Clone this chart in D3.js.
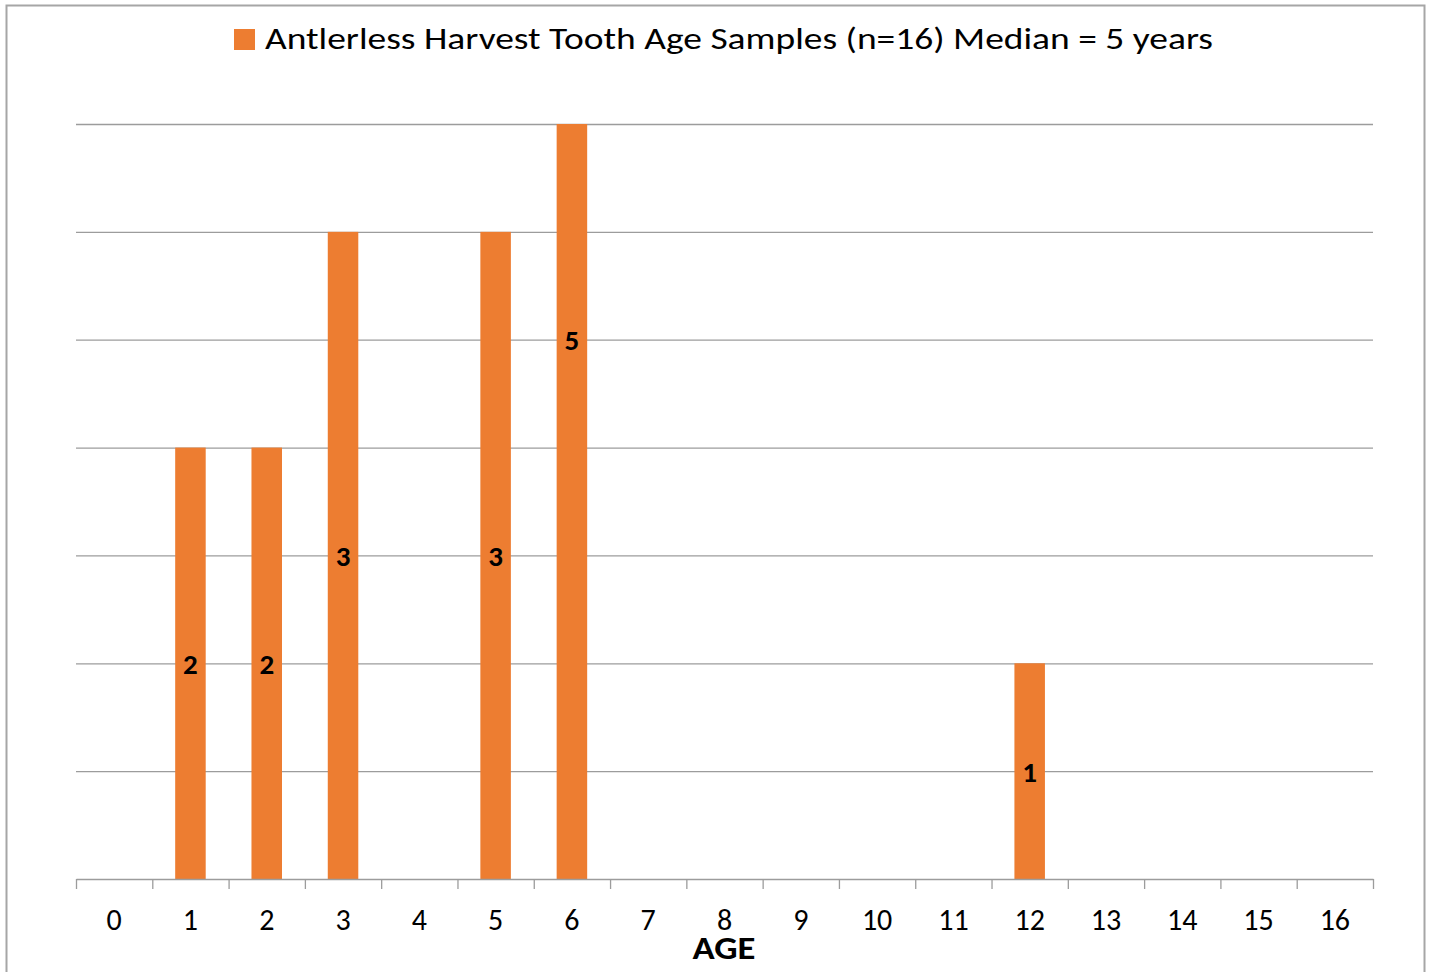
<!DOCTYPE html>
<html>
<head>
<meta charset="utf-8">
<script src="https://cdn.jsdelivr.net/npm/d3@7"></script>
<style>
  html, body { margin: 0; padding: 0; background: #fff; }
  svg { display: block; font-family: Carlito, Lato, sans-serif; }
</style>
</head>
<body>
<svg id="chart" width="1433" height="972"></svg>
<script>
// ---- data ----
const ages = ["0","1","2","3","4","5","6","7","8","9","10","11","12","13","14","15","16"];
// bar heights as drawn (in gridline units)
const barHeights = [0,4,4,6,0,6,7,0,0,0,0,0,2,0,0,0,0];
// data labels shown on the bars (sample counts)
const counts = [0,2,2,3,0,3,5,0,0,0,0,0,1,0,0,0,0];
const yTicks = [0,1,2,3,4,5,6,7];
const seriesName = "Antlerless Harvest Tooth Age Samples (n=16) Median = 5 years";
const axisTitle = "AGE";

const svg = d3.select("#chart");
const mLeft = 76, mRight = 1373, mTop = 124, mBottom = 879;
const barColor = "#ED7D31";
const gridColor = "#9c9c9c";

// outer border
svg.append("rect").attr("x", 6.5).attr("y", 5.5).attr("width", 1418).attr("height", 980)
  .attr("fill", "none").attr("stroke", "#a6a6a6").attr("stroke-width", 2);

const x = d3.scaleBand().domain(ages).range([mLeft, mRight]).paddingInner(0.6).paddingOuter(0.3);
const y = d3.scaleLinear().domain([0, 7]).range([mBottom, mTop]);

// gridlines
const grid = svg.append("g").attr("transform", `translate(${mLeft},0)`)
  .call(d3.axisLeft(y).tickValues(yTicks.slice(1)).tickSize(-(mRight - mLeft)).tickFormat(""));
grid.select(".domain").remove();
grid.selectAll("line").attr("stroke", gridColor).attr("stroke-width", 1.3);

// bars
svg.append("g").selectAll("rect").data(ages.map((a, i) => ({a, h: barHeights[i], c: counts[i]})).filter(d => d.h > 0))
  .join("rect")
  .attr("x", d => x(d.a)).attr("width", x.bandwidth())
  .attr("y", d => y(d.h)).attr("height", d => y(0) - y(d.h))
  .attr("fill", barColor);

// data labels
svg.append("g").selectAll("text").data(ages.map((a, i) => ({a, c: counts[i]})).filter(d => d.c > 0))
  .join("text")
  .attr("x", d => x(d.a) + x.bandwidth() / 2)
  .attr("y", d => y(d.c))
  .attr("dy", "0.36em")
  .attr("text-anchor", "middle")
  .attr("font-weight", "bold")
  .attr("font-size", 29)
  .attr("fill", "#000")
  .text(d => d.c);

// boundary ticks + axis line
const xb = d3.scaleLinear().domain([0, ages.length]).range([mLeft, mRight]);
const tickAxis = svg.append("g").attr("transform", `translate(0,${mBottom})`)
  .call(d3.axisBottom(xb).tickValues(d3.range(0, ages.length + 1)).tickSize(10).tickSizeOuter(0).tickFormat(""));
tickAxis.selectAll("line, path").attr("stroke", gridColor).attr("stroke-width", 1.3);

// category labels
const labelAxis = svg.append("g").attr("transform", `translate(0,${mBottom})`)
  .call(d3.axisBottom(x).tickSize(0).tickPadding(0));
labelAxis.select(".domain").remove();
labelAxis.selectAll("text").attr("font-size", 30).attr("font-family", "Carlito, Lato, sans-serif")
  .attr("fill", "#000").attr("dy", null).attr("y", 51);

// axis title
svg.append("text").attr("x", 724).attr("y", 959).attr("text-anchor", "middle")
  .attr("font-weight", "bold").attr("font-size", 33).attr("fill", "#000")
  .attr("textLength", 63).attr("lengthAdjust", "spacingAndGlyphs").text(axisTitle);

// legend
svg.append("rect").attr("x", 234).attr("y", 29).attr("width", 21).attr("height", 21).attr("fill", barColor);
svg.append("text").attr("x", 265).attr("y", 49).attr("font-size", 30).attr("fill", "#000")
  .attr("textLength", 948).attr("lengthAdjust", "spacingAndGlyphs").text(seriesName);
</script>
</body>
</html>
